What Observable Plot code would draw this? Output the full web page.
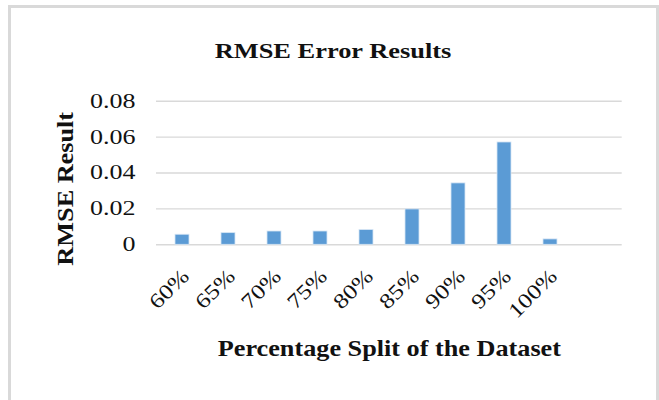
<!DOCTYPE html>
<html>
<head>
<meta charset="utf-8">
<script src="https://cdn.jsdelivr.net/npm/d3@7"></script>
<script src="https://cdn.jsdelivr.net/npm/@observablehq/plot@0.6"></script>
<style>
  html, body { margin: 0; padding: 0; background: #fff; width: 659px; height: 400px; overflow: hidden; }
  #frame { position: absolute; left: 8px; top: 5px; width: 645px; height: 430px;
           border: 3px solid #d9d9d9; border-bottom: none; box-sizing: content-box; }
  #title { position: absolute; left: 0; top: 0; width: 659px; height: 70px; text-align: center; }
  #title span { position: absolute; left: 333px; top: 38px; line-height: 22px;
                font: bold 22px "Liberation Serif", "Times New Roman", serif; color: #111;
                white-space: nowrap; transform: translateX(-50%) scaleX(1.2); }
  #chart { position: absolute; left: 0; top: 70px; }
</style>
</head>
<body>
<div id="frame"></div>
<div id="title"><span id="titleText"></span></div>
<div id="chart"></div>
<script>
const categories = ["60%", "65%", "70%", "75%", "80%", "85%", "90%", "95%", "100%"];
const rmse = [0.0056, 0.0065, 0.0074, 0.0074, 0.0082, 0.0197, 0.0342, 0.057, 0.003];
const yTicks = [0, 0.02, 0.04, 0.06, 0.08];
const yTickLabels = ["0", "0.02", "0.04", "0.06", "0.08"];
const titleText = "RMSE Error Results";
const xLabel = "Percentage Split of the Dataset";
const yLabel = "RMSE Result";

document.getElementById("titleText").textContent = titleText;

const data = categories.map((c, i) => ({split: c, value: rmse[i]}));
const domain = [...categories, ""]; // trailing empty category slot

const serif = '"Liberation Serif", "Times New Roman", serif';

const plot = Plot.plot({
  width: 659,
  height: 330,
  marginTop: 30.7,
  marginBottom: 155.7,
  marginLeft: 156,
  marginRight: 37.3,
  style: {fontFamily: serif, background: "transparent", color: "#111"},
  x: {type: "band", domain, paddingInner: 0.69, paddingOuter: 0.345, align: 0.5},
  y: {domain: [0, 0.08]},
  marks: [
    Plot.gridY(yTicks, {stroke: "#d9d9d9", strokeOpacity: 1, strokeWidth: 1.4}),
    Plot.barY(data, {x: "split", y: "value", fill: "#5b9bd5", stroke: "#d6e5f4", strokeWidth: 0.8}),
    Plot.axisY(yTicks, {tickSize: 0, tickPadding: 21, fontSize: 20, fill: "#111",
      tickFormat: d => yTickLabels[yTicks.indexOf(d)], label: null}),
    Plot.axisX(categories, {tickSize: 0, tickRotate: -45, tickPadding: 28, dx: 3, fontSize: 21, fill: "#111",
      label: null}),
    Plot.text([yLabel], {frameAnchor: "left", textAnchor: "middle", lineAnchor: "middle", rotate: -90,
      dx: -91, dy: 15.8, fontSize: 23, fontWeight: "bold", fill: "#111"}),
    Plot.text([xLabel], {frameAnchor: "bottom", textAnchor: "middle", lineAnchor: "middle",
      dy: 104.3, fontSize: 23, fontWeight: "bold", fill: "#111"})
  ]
});
document.getElementById("chart").appendChild(plot);

// Horizontally widen the glyphs like the reference rendering
function stretchFactor(s) {
  if (categories.includes(s)) return 1.2;
  if (yTickLabels.includes(s)) return 1.3;
  if (s === xLabel || s === yLabel) return 1.14;
  return 1;
}
plot.querySelectorAll("text").forEach(t => {
  const k = stretchFactor(t.textContent);
  const w = t.getComputedTextLength();
  if (k !== 1 && w > 0) {
    t.setAttribute("textLength", (w * k).toFixed(1));
    t.setAttribute("lengthAdjust", "spacingAndGlyphs");
  }
});
</script>
</body>
</html>
